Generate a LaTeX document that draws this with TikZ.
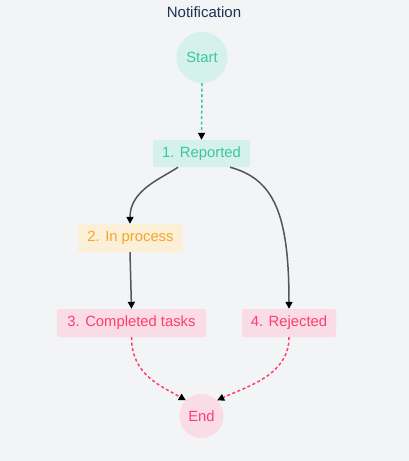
\documentclass[tikz,border=0pt]{standalone}
\usepackage{fontspec}
\setmainfont{Liberation Sans}
\usetikzlibrary{arrows.meta}
\definecolor{bg}{HTML}{F3F4F6}
\definecolor{titlec}{HTML}{1E3250}
\definecolor{tealtx}{HTML}{3DC79B}
\definecolor{tealfill}{HTML}{D4F1EA}
\definecolor{orgtx}{HTML}{F5A623}
\definecolor{orgfill}{HTML}{FCEFD8}
\definecolor{pinktx}{HTML}{FF3D71}
\definecolor{pinkfill}{HTML}{F9DCE5}
\definecolor{linec}{HTML}{555555}
\tikzset{
  statebox/.style={rectangle, rounded corners=2pt, inner sep=0pt, minimum height=28pt, font=\fontsize{14.8}{16}\selectfont},
  tealbox/.style={statebox, fill=tealfill, text=tealtx},
  orgbox/.style={statebox, fill=orgfill, text=orgtx},
  pinkbox/.style={statebox, fill=pinkfill, text=pinktx},
  termc/.style={circle, inner sep=0pt, font=\fontsize{14.8}{16}\selectfont},
  tip/.style={-{Triangle[length=7pt,width=7pt,color=black]}},
  solidcon/.style={tip, draw=linec, line width=1.5pt},
  tealdash/.style={tip, draw=tealtx, line width=1.5pt, dash pattern=on 3pt off 2.5pt},
  pinkdash/.style={tip, draw=pinktx, line width=1.5pt, dash pattern=on 3pt off 2.5pt},
}
\begin{document}
\begin{tikzpicture}[x=1pt,y=-1pt]
\fill[bg] (0,0) rectangle (409,461);
\useasboundingbox (0,0) rectangle (409,461);
\node[font=\fontsize{15}{17}\selectfont, text=titlec] (title) at (204,12) {Notification};
\node[termc, fill=tealfill, text=tealtx, minimum size=51pt] (start) at (202,57.5) {Start};
\node[tealbox, minimum width=97pt, minimum height=27pt] (rep) at (201.5,153.5) {1. Reported};
\node[orgbox, minimum width=105pt] (inp) at (130.5,238) {2. In process};
\node[pinkbox, minimum width=149pt] (comp) at (131.5,323) {3. Completed tasks};
\node[pinkbox, minimum width=94pt] (rej) at (289,323) {4. Rejected};
\node[termc, fill=pinkfill, text=pinktx, minimum size=44pt] (end) at (201.5,416) {End};

\draw[tealdash] (start.south) -- (rep.north);
\draw[solidcon] ([xshift=-23.5pt]rep.south) .. controls +(-16,11) and +(0,-34) .. ([xshift=-0.5pt]inp.north);
\draw[solidcon] ([xshift=28.5pt]rep.south) .. controls +(44,12) and +(0,-95) .. (rej.north);
\draw[solidcon] ([xshift=-0.5pt]inp.south) -- (comp.north);
\draw[pinkdash] (comp.south) .. controls +(0,38) and +(-24,-14) .. (end.north west);
\draw[pinkdash] (rej.south) .. controls +(0,38) and +(30,-14) .. (end.north east);
\end{tikzpicture}
\end{document}
